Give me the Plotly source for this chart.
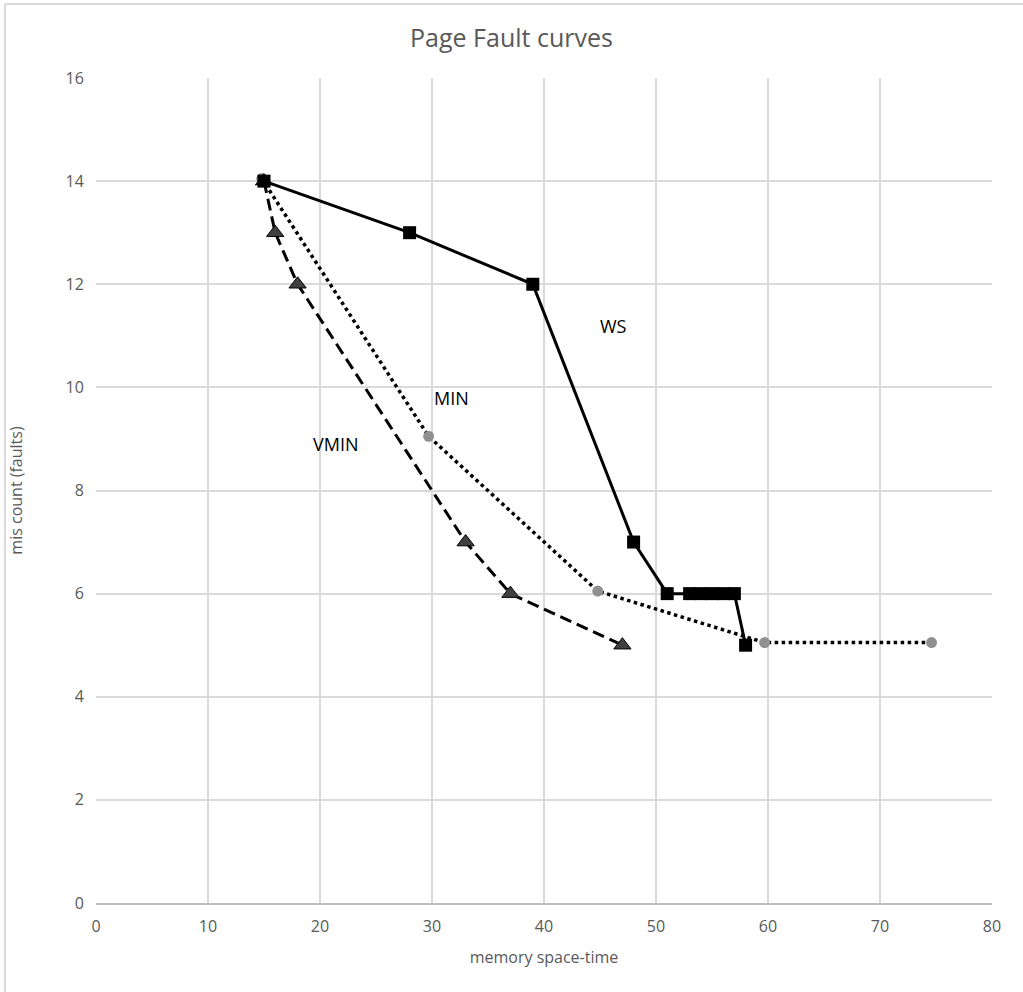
import plotly.graph_objects as go

ws_x = [15, 28, 39, 48, 51, 53, 54, 55, 56, 57, 58]
ws_y = [14, 13, 12, 7, 6, 6, 6, 6, 6, 6, 5]
min_x = [14.8, 29.7, 44.8, 59.7, 74.6]
min_y = [14.05, 9.05, 6.05, 5.05, 5.05]
vmin_x = [15, 16, 18, 33, 37, 47]
vmin_y = [14, 13, 12, 7, 6, 5]

x_ticks = [0, 10, 20, 30, 40, 50, 60, 70, 80]
y_ticks = [0, 2, 4, 6, 8, 10, 12, 14, 16]

labels = ["WS", "MIN", "VMIN"]
label_x = [46.2, 31.7, 21.4]
label_y = [11.2, 9.8, 8.9]

font_fam = "Open Sans, Lato, sans-serif"
grey_txt = "#595959"

fig = go.Figure()
fig.add_trace(go.Scatter(
    x=min_x, y=min_y, mode="lines+markers", name="MIN",
    line=dict(color="black", width=3.5, dash="dot"),
    marker=dict(symbol="circle", size=11, color="#909090", line=dict(width=0)),
))
fig.add_trace(go.Scatter(
    x=vmin_x, y=vmin_y, mode="lines+markers", name="VMIN",
    line=dict(color="black", width=3, dash="12px,6px"),
    marker=dict(symbol="triangle-up", size=15, color="#404040", line=dict(color="black", width=1)),
))
fig.add_trace(go.Scatter(
    x=ws_x, y=ws_y, mode="lines+markers", name="WS",
    line=dict(color="black", width=3),
    marker=dict(symbol="square", size=13, color="black"),
))

for t, xv, yv in zip(labels, label_x, label_y):
    fig.add_annotation(x=xv, y=yv, text=t, showarrow=False,
                       font=dict(family=font_fam, size=18, color="black"))

# outer frame (top and left edges visible)
fig.add_shape(type="line", xref="paper", yref="paper", x0=-0.1016, x1=1.1, y0=1.0897, y1=1.0897,
              line=dict(color="#d9d9d9", width=2))
fig.add_shape(type="line", xref="paper", yref="paper", x0=-0.1016, x1=-0.1016, y0=-0.2, y1=1.0897,
              line=dict(color="#d9d9d9", width=2))

fig.update_layout(
    width=1023, height=992,
    paper_bgcolor="white", plot_bgcolor="white",
    margin=dict(l=96, r=31, t=78, b=89),
    showlegend=False,
    title=dict(text="Page Fault curves", x=0.5, xref="container", xanchor="center",
               y=1 - 38 / 992, yref="container", yanchor="middle",
               font=dict(family=font_fam, size=25, color=grey_txt)),
    font=dict(family=font_fam, color=grey_txt),
)
fig.update_xaxes(
    range=[0, 80], tickvals=x_ticks, ticktext=[str(v) for v in x_ticks],
    showgrid=True, gridcolor="#d9d9d9", gridwidth=1.5,
    showline=True, linecolor="#bfbfbf", linewidth=2,
    zeroline=False, ticks="outside", ticklen=8, tickcolor="white",
    tickfont=dict(size=16, color=grey_txt),
    title=dict(text="memory space-time", font=dict(size=16, color=grey_txt), standoff=16),
)
fig.update_yaxes(
    range=[0, 16], tickvals=y_ticks, ticktext=[str(v) for v in y_ticks],
    showgrid=True, gridcolor="#d9d9d9", gridwidth=1.5,
    showline=False, zeroline=False, ticks="outside", ticklen=8, tickcolor="white",
    tickfont=dict(size=16, color=grey_txt),
    title=dict(text="mis count (faults)", font=dict(size=16, color=grey_txt), standoff=38),
)

fig.write_html("out.html", config={"displayModeBar": False},
               post_script="document.body.style.margin='0';document.body.style.overflow='hidden';")
